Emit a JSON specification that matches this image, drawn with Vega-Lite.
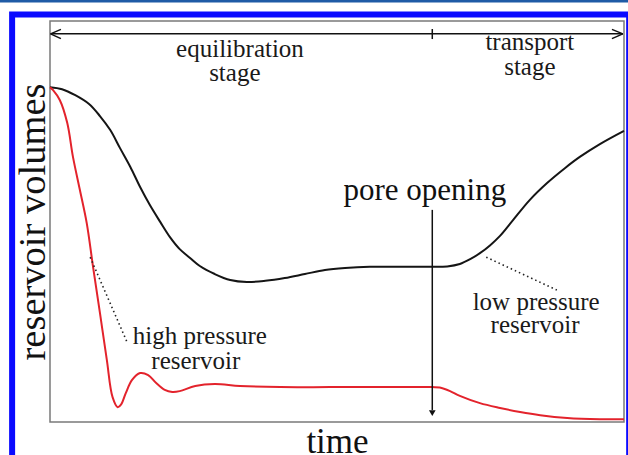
{
  "$schema": "https://vega.github.io/schema/vega-lite/v6.json",
  "width": 574,
  "height": 401,
  "autosize": {"type": "none"},
  "padding": {"left": 50, "top": 21, "right": 4, "bottom": 33},
  "background": "white",
  "config": {
    "view": {"stroke": "#7a7a7a", "strokeWidth": 1.5},
    "font": "Liberation Serif",
    "axisX": {"domain": false, "ticks": false, "labels": false, "grid": false,
              "titleFont": "Liberation Serif", "titleFontSize": 35, "titleFontWeight": "normal",
              "titleColor": "#111111", "titleBaseline": "alphabetic", "titlePadding": 30},
    "axisY": {"domain": false, "ticks": false, "labels": false, "grid": false,
              "titleFont": "Liberation Serif", "titleFontSize": 38.5, "titleFontWeight": "normal",
              "titleColor": "#111111", "titleBaseline": "alphabetic", "titlePadding": 6}
  },
  "datasets": {
    "curves": [
      {"x": 0, "y": 83.5, "s": "low pressure"},
      {"x": 2.1, "y": 83.0, "s": "low pressure"},
      {"x": 4.4, "y": 81.5, "s": "low pressure"},
      {"x": 6.8, "y": 79.3, "s": "low pressure"},
      {"x": 8.7, "y": 76.3, "s": "low pressure"},
      {"x": 10.5, "y": 72.8, "s": "low pressure"},
      {"x": 12.2, "y": 68.3, "s": "low pressure"},
      {"x": 14.0, "y": 63.6, "s": "low pressure"},
      {"x": 15.7, "y": 58.6, "s": "low pressure"},
      {"x": 17.4, "y": 54.1, "s": "low pressure"},
      {"x": 19.2, "y": 49.9, "s": "low pressure"},
      {"x": 20.9, "y": 46.1, "s": "low pressure"},
      {"x": 22.6, "y": 43.1, "s": "low pressure"},
      {"x": 24.4, "y": 40.9, "s": "low pressure"},
      {"x": 26.1, "y": 38.9, "s": "low pressure"},
      {"x": 28.7, "y": 36.9, "s": "low pressure"},
      {"x": 31.4, "y": 35.4, "s": "low pressure"},
      {"x": 34.3, "y": 34.9, "s": "low pressure"},
      {"x": 37.5, "y": 35.2, "s": "low pressure"},
      {"x": 40.9, "y": 35.9, "s": "low pressure"},
      {"x": 44.4, "y": 36.9, "s": "low pressure"},
      {"x": 47.9, "y": 37.9, "s": "low pressure"},
      {"x": 51.4, "y": 38.4, "s": "low pressure"},
      {"x": 55.7, "y": 38.7, "s": "low pressure"},
      {"x": 61.0, "y": 38.7, "s": "low pressure"},
      {"x": 66.6, "y": 38.7, "s": "low pressure"},
      {"x": 69.2, "y": 38.8, "s": "low pressure"},
      {"x": 71.4, "y": 39.4, "s": "low pressure"},
      {"x": 73.2, "y": 40.6, "s": "low pressure"},
      {"x": 74.9, "y": 42.1, "s": "low pressure"},
      {"x": 76.7, "y": 44.1, "s": "low pressure"},
      {"x": 78.4, "y": 46.4, "s": "low pressure"},
      {"x": 80.7, "y": 50.4, "s": "low pressure"},
      {"x": 83.6, "y": 55.4, "s": "low pressure"},
      {"x": 86.6, "y": 59.6, "s": "low pressure"},
      {"x": 89.7, "y": 63.3, "s": "low pressure"},
      {"x": 92.3, "y": 66.1, "s": "low pressure"},
      {"x": 95.8, "y": 69.3, "s": "low pressure"},
      {"x": 100, "y": 72.6, "s": "low pressure"},
      {"x": 0, "y": 83.5, "s": "high pressure"},
      {"x": 0.5, "y": 82.8, "s": "high pressure"},
      {"x": 1.7, "y": 80.3, "s": "high pressure"},
      {"x": 3.0, "y": 74.6, "s": "high pressure"},
      {"x": 4.0, "y": 66.1, "s": "high pressure"},
      {"x": 5.2, "y": 57.9, "s": "high pressure"},
      {"x": 6.4, "y": 49.6, "s": "high pressure"},
      {"x": 7.5, "y": 38.7, "s": "high pressure"},
      {"x": 8.7, "y": 27.2, "s": "high pressure"},
      {"x": 9.9, "y": 15.5, "s": "high pressure"},
      {"x": 10.9, "y": 6.2, "s": "high pressure"},
      {"x": 11.8, "y": 3.7, "s": "high pressure"},
      {"x": 12.4, "y": 4.4, "s": "high pressure"},
      {"x": 13.2, "y": 7.2, "s": "high pressure"},
      {"x": 14.3, "y": 10.5, "s": "high pressure"},
      {"x": 15.7, "y": 12.2, "s": "high pressure"},
      {"x": 17.1, "y": 11.7, "s": "high pressure"},
      {"x": 18.5, "y": 9.7, "s": "high pressure"},
      {"x": 20.0, "y": 8.0, "s": "high pressure"},
      {"x": 21.3, "y": 7.5, "s": "high pressure"},
      {"x": 22.6, "y": 7.7, "s": "high pressure"},
      {"x": 25.3, "y": 9.0, "s": "high pressure"},
      {"x": 28.7, "y": 9.5, "s": "high pressure"},
      {"x": 33.1, "y": 9.0, "s": "high pressure"},
      {"x": 40.1, "y": 8.7, "s": "high pressure"},
      {"x": 48.8, "y": 8.7, "s": "high pressure"},
      {"x": 57.5, "y": 8.7, "s": "high pressure"},
      {"x": 66.6, "y": 8.7, "s": "high pressure"},
      {"x": 67.9, "y": 8.6, "s": "high pressure"},
      {"x": 69.7, "y": 7.7, "s": "high pressure"},
      {"x": 71.4, "y": 6.5, "s": "high pressure"},
      {"x": 74.9, "y": 4.7, "s": "high pressure"},
      {"x": 78.4, "y": 3.5, "s": "high pressure"},
      {"x": 81.9, "y": 2.5, "s": "high pressure"},
      {"x": 85.4, "y": 1.7, "s": "high pressure"},
      {"x": 90.1, "y": 1.0, "s": "high pressure"},
      {"x": 95.8, "y": 0.7, "s": "high pressure"},
      {"x": 100, "y": 0.7, "s": "high pressure"}
    ],
    "segs": [
      {"kind": "solid", "x": 0.1, "y": 96.8, "x2": 99.8, "y2": 96.8},
      {"kind": "solid", "x": 0.1, "y": 96.8, "x2": 1.9, "y2": 97.9},
      {"kind": "solid", "x": 0.1, "y": 96.8, "x2": 1.9, "y2": 95.6},
      {"kind": "solid", "x": 99.8, "y": 96.8, "x2": 97.9, "y2": 97.9},
      {"kind": "solid", "x": 99.8, "y": 96.8, "x2": 97.9, "y2": 95.6},
      {"kind": "solid", "x": 66.6, "y": 98.0, "x2": 66.6, "y2": 95.5},
      {"kind": "solid", "x": 66.6, "y": 52.9, "x2": 66.6, "y2": 3.0},
      {"kind": "dotted", "x": 7.0, "y": 41.1, "x2": 13.4, "y2": 20.0},
      {"kind": "dotted", "x": 76.0, "y": 41.1, "x2": 88.3, "y2": 32.9}
    ],
    "heads": [{"x": 66.6, "y": 2.2}],
    "labels": [
      {"g": "small", "x": 33.1, "y": 91.0, "label": "equilibration"},
      {"g": "small", "x": 32.2, "y": 85.0, "label": "stage"},
      {"g": "small", "x": 83.6, "y": 92.8, "label": "transport"},
      {"g": "small", "x": 83.6, "y": 86.5, "label": "stage"},
      {"g": "small", "x": 26.1, "y": 19.5, "label": "high pressure"},
      {"g": "small", "x": 25.4, "y": 13.2, "label": "reservoir"},
      {"g": "small", "x": 84.7, "y": 27.9, "label": "low pressure"},
      {"g": "small", "x": 84.5, "y": 22.2, "label": "reservoir"},
      {"g": "big", "x": 65.3, "y": 55.4, "label": "pore opening"}
    ]
  },
  "layer": [
    {
      "data": {"name": "curves"},
      "mark": {"type": "line", "strokeWidth": 2, "interpolate": "catmull-rom"},
      "encoding": {
        "x": {"field": "x", "type": "quantitative", "title": "time", "scale": {"domain": [0, 100], "nice": false, "zero": false}},
        "y": {"field": "y", "type": "quantitative", "title": "reservoir volumes", "scale": {"domain": [0, 100], "nice": false, "zero": false}},
        "color": {
          "field": "s", "type": "nominal",
          "scale": {"domain": ["low pressure", "high pressure"], "range": ["#151515", "#e3232c"]},
          "legend": null
        }
      }
    },
    {
      "data": {"name": "segs"},
      "transform": [{"filter": "datum.kind === 'solid'"}],
      "mark": {"type": "rule", "color": "#111111", "strokeWidth": 1.5},
      "encoding": {
        "x": {"field": "x", "type": "quantitative", "title": "time", "scale": {"domain": [0, 100], "nice": false, "zero": false}},
        "y": {"field": "y", "type": "quantitative", "title": "reservoir volumes", "scale": {"domain": [0, 100], "nice": false, "zero": false}},
        "x2": {"field": "x2"},
        "y2": {"field": "y2"}
      }
    },
    {
      "data": {"name": "segs"},
      "transform": [{"filter": "datum.kind === 'dotted'"}],
      "mark": {"type": "rule", "color": "#222222", "strokeWidth": 1.6, "strokeDash": [1.5, 3]},
      "encoding": {
        "x": {"field": "x", "type": "quantitative", "title": "time", "scale": {"domain": [0, 100], "nice": false, "zero": false}},
        "y": {"field": "y", "type": "quantitative", "title": "reservoir volumes", "scale": {"domain": [0, 100], "nice": false, "zero": false}},
        "x2": {"field": "x2"},
        "y2": {"field": "y2"}
      }
    },
    {
      "data": {"name": "heads"},
      "mark": {"type": "point", "shape": "triangle-down", "size": 45, "filled": true, "color": "#111111", "opacity": 1},
      "encoding": {
        "x": {"field": "x", "type": "quantitative", "title": "time", "scale": {"domain": [0, 100], "nice": false, "zero": false}},
        "y": {"field": "y", "type": "quantitative", "title": "reservoir volumes", "scale": {"domain": [0, 100], "nice": false, "zero": false}}
      }
    },
    {
      "data": {"name": "labels"},
      "transform": [{"filter": "datum.g === 'small'"}],
      "mark": {"type": "text", "font": "Liberation Serif", "fontSize": 25, "align": "center", "baseline": "alphabetic", "color": "#1a1a1a"},
      "encoding": {
        "x": {"field": "x", "type": "quantitative", "title": "time", "scale": {"domain": [0, 100], "nice": false, "zero": false}},
        "y": {"field": "y", "type": "quantitative", "title": "reservoir volumes", "scale": {"domain": [0, 100], "nice": false, "zero": false}},
        "text": {"field": "label"}
      }
    },
    {
      "data": {"name": "labels"},
      "transform": [{"filter": "datum.g === 'big'"}],
      "mark": {"type": "text", "font": "Liberation Serif", "fontSize": 31, "align": "center", "baseline": "alphabetic", "color": "#111111"},
      "encoding": {
        "x": {"field": "x", "type": "quantitative", "title": "time", "scale": {"domain": [0, 100], "nice": false, "zero": false}},
        "y": {"field": "y", "type": "quantitative", "title": "reservoir volumes", "scale": {"domain": [0, 100], "nice": false, "zero": false}},
        "text": {"field": "label"}
      }
    },
    {
      "data": {"values": [{}]},
      "mark": {"type": "rect", "fillOpacity": 0, "stroke": "#0a0aff", "strokeWidth": 6},
      "encoding": {
        "x": {"datum": -6.6, "type": "quantitative", "title": "time", "scale": {"domain": [0, 100], "nice": false, "zero": false}},
        "x2": {"datum": 100.9},
        "y": {"datum": 101.6, "type": "quantitative", "title": "reservoir volumes", "scale": {"domain": [0, 100], "nice": false, "zero": false}},
        "y2": {"datum": -12}
      }
    },
    {
      "data": {"values": [{}]},
      "mark": {"type": "rule", "stroke": "#1f5ba6", "strokeWidth": 2.5},
      "encoding": {
        "x": {"datum": -9, "type": "quantitative", "title": "time", "scale": {"domain": [0, 100], "nice": false, "zero": false}},
        "x2": {"datum": 101},
        "y": {"datum": 104.9, "type": "quantitative", "title": "reservoir volumes", "scale": {"domain": [0, 100], "nice": false, "zero": false}}
      }
    }
  ]
}
